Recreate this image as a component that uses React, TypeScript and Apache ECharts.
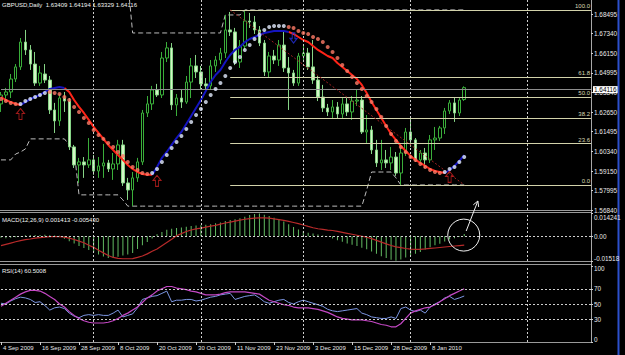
import React, { useEffect, useRef } from 'react';
import * as echarts from 'echarts';

const FONT = '"Liberation Sans", Arial, sans-serif';

// ---------- categories (trading days) ----------
const sepDays = [4, 7, 8, 9, 10, 11, 14, 15, 16, 17, 18, 21, 22, 23, 24, 25, 28, 29, 30];
const octDays = [1, 2, 5, 6, 7, 8, 9, 12, 13, 14, 15, 16, 19, 20, 21, 22, 23, 26, 27, 28, 29, 30];
const novDays = [2, 3, 4, 5, 6, 9, 10, 11, 12, 13, 16, 17, 18, 19, 20, 23, 24, 25, 26, 27, 30];
const decDays = [1, 2, 3, 4, 7, 8, 9, 10, 11, 14, 15, 16, 17, 18, 21, 22, 23, 24, 28, 29, 30, 31];
const janDays = [4, 5, 6, 7, 8, 11, 12, 13, 14, 15, 18, 19];
const futureSlots = 26;

// ---------- candles: [open, close, low, high] ----------
const candles = [
  [1.6315, 1.6368, 1.6267, 1.6386], // 0
  [1.6368, 1.6386, 1.6332, 1.6410],
  [1.6386, 1.6463, 1.6350, 1.6493],
  [1.6463, 1.6535, 1.6445, 1.6552],
  [1.6535, 1.6683, 1.6517, 1.6707],
  [1.6683, 1.6636, 1.6606, 1.6755], // 5
  [1.6636, 1.6552, 1.6517, 1.6665],
  [1.6552, 1.6439, 1.6422, 1.6624],
  [1.6439, 1.6499, 1.6422, 1.6541],
  [1.6493, 1.6457, 1.6439, 1.6552],
  [1.6457, 1.6279, 1.6255, 1.6481], // 10
  [1.6279, 1.6214, 1.6142, 1.6321],
  [1.6214, 1.6350, 1.6184, 1.6374],
  [1.6350, 1.6332, 1.6267, 1.6386],
  [1.6332, 1.6059, 1.6041, 1.6350],
  [1.6059, 1.5952, 1.5934, 1.6071], // 15
  [1.5952, 1.5970, 1.5845, 1.5994],
  [1.5970, 1.5952, 1.5875, 1.5999],
  [1.5952, 1.5982, 1.5934, 1.6112],
  [1.5982, 1.5916, 1.5893, 1.6011],
  [1.5916, 1.5946, 1.5875, 1.5999], // 20
  [1.5946, 1.5964, 1.5875, 1.6077],
  [1.5964, 1.5928, 1.5910, 1.5982],
  [1.5928, 1.5958, 1.5863, 1.6023],
  [1.5958, 1.6071, 1.5922, 1.6101],
  [1.6071, 1.5845, 1.5827, 1.6101], // 25
  [1.5845, 1.5803, 1.5744, 1.5875],
  [1.5803, 1.5875, 1.5707, 1.5910],
  [1.5875, 1.5970, 1.5851, 1.5994],
  [1.5970, 1.6261, 1.5952, 1.6279],
  [1.6261, 1.6315, 1.6237, 1.6362], // 30
  [1.6315, 1.6398, 1.6279, 1.6422],
  [1.6398, 1.6368, 1.6356, 1.6434],
  [1.6368, 1.6588, 1.6350, 1.6624],
  [1.6588, 1.6648, 1.6564, 1.6683],
  [1.6648, 1.6309, 1.6279, 1.6677], // 35
  [1.6309, 1.6350, 1.6243, 1.6374],
  [1.6350, 1.6326, 1.6291, 1.6398],
  [1.6326, 1.6445, 1.6315, 1.6481],
  [1.6445, 1.6541, 1.6350, 1.6588],
  [1.6541, 1.6505, 1.6469, 1.6606], // 40
  [1.6505, 1.6434, 1.6398, 1.6541],
  [1.6434, 1.6422, 1.6386, 1.6469],
  [1.6422, 1.6541, 1.6398, 1.6576],
  [1.6541, 1.6576, 1.6505, 1.6600],
  [1.6576, 1.6618, 1.6552, 1.6648], // 45
  [1.6618, 1.6755, 1.6588, 1.6844],
  [1.6755, 1.6743, 1.6719, 1.6862],
  [1.6743, 1.6564, 1.6546, 1.6767],
  [1.6564, 1.6659, 1.6529, 1.6695],
  [1.6659, 1.6808, 1.6636, 1.6874], // 50
  [1.6808, 1.6802, 1.6767, 1.6856],
  [1.6802, 1.6755, 1.6731, 1.6838],
  [1.6755, 1.6677, 1.6659, 1.6778],
  [1.6677, 1.6505, 1.6481, 1.6695],
  [1.6505, 1.6600, 1.6469, 1.6624], // 55
  [1.6600, 1.6576, 1.6552, 1.6636],
  [1.6576, 1.6665, 1.6541, 1.6695],
  [1.6665, 1.6529, 1.6505, 1.6743],
  [1.6529, 1.6499, 1.6279, 1.6594],
  [1.6499, 1.6439, 1.6422, 1.6517], // 60
  [1.6439, 1.6600, 1.6422, 1.6618],
  [1.6600, 1.6618, 1.6576, 1.6659],
  [1.6618, 1.6535, 1.6517, 1.6648],
  [1.6535, 1.6457, 1.6434, 1.6695],
  [1.6457, 1.6356, 1.6332, 1.6481], // 65
  [1.6356, 1.6291, 1.6267, 1.6428],
  [1.6291, 1.6267, 1.6243, 1.6315],
  [1.6267, 1.6297, 1.6231, 1.6338],
  [1.6297, 1.6255, 1.6231, 1.6326],
  [1.6255, 1.6315, 1.6231, 1.6350], // 70
  [1.6315, 1.6267, 1.6243, 1.6350],
  [1.6267, 1.6332, 1.6220, 1.6362],
  [1.6332, 1.6338, 1.6303, 1.6398],
  [1.6338, 1.6148, 1.6136, 1.6362],
  [1.6148, 1.6160, 1.6083, 1.6249], // 75
  [1.6160, 1.6041, 1.6017, 1.6184],
  [1.6041, 1.5964, 1.5940, 1.6101],
  [1.5964, 1.5982, 1.5922, 1.6101],
  [1.5982, 1.5964, 1.5934, 1.6041],
  [1.5964, 1.5999, 1.5922, 1.6059], // 80
  [1.5999, 1.5904, 1.5887, 1.6029],
  [1.5904, 1.6023, 1.5833, 1.6059],
  [1.6023, 1.6148, 1.6005, 1.6172],
  [1.6148, 1.6101, 1.6059, 1.6237],
  [1.6101, 1.5982, 1.5970, 1.6112], // 85
  [1.5982, 1.6023, 1.5958, 1.6041],
  [1.6023, 1.5982, 1.5934, 1.6053],
  [1.5982, 1.6101, 1.5964, 1.6130],
  [1.6101, 1.6112, 1.6041, 1.6178],
  [1.6112, 1.6172, 1.6095, 1.6184], // 90
  [1.6172, 1.6273, 1.6136, 1.6291],
  [1.6273, 1.6321, 1.6255, 1.6338],
  [1.6321, 1.6261, 1.6208, 1.6350],
  [1.6261, 1.6338, 1.6243, 1.6356],
  [1.63409, 1.64116, 1.63329, 1.64194], // 95
];

// ---------- channel (dashed step lines) ----------
const channelUpperSteps = [
  { from: 0, to: 26, value: 1.7043 },
  { from: 27, to: 45, value: 1.6737 },
  { from: 46, to: 49, value: 1.6844 },
  { from: 50, to: 95, value: 1.6874 },
];
const channelLowerSteps = [
  { from: 0, to: 2, value: 1.5982 },
  { from: 3, to: 3, value: 1.6017 },
  { from: 4, to: 4, value: 1.6029 },
  { from: 5, to: 5, value: 1.6047 },
  { from: 6, to: 13, value: 1.6107 },
  { from: 14, to: 14, value: 1.6071 },
  { from: 15, to: 15, value: 1.6041 },
  { from: 16, to: 24, value: 1.5774 },
  { from: 25, to: 25, value: 1.5744 },
  { from: 26, to: 74, value: 1.5707 },
  { from: 75, to: 75, value: 1.5803 },
  { from: 76, to: 80, value: 1.5910 },
  { from: 81, to: 81, value: 1.5875 },
  { from: 82, to: 95, value: 1.5833 },
];

// ---------- trend curve + dots ----------
const trendLine = [
  1.6356, 1.6338, 1.6326, 1.6315, 1.6309, 1.6326, 1.6344, 1.6356, 1.6368, 1.6386,
  1.6404, 1.6410, 1.6416, 1.6410, 1.6386, 1.6338, 1.6297, 1.6261, 1.6220, 1.6178,
  1.6142, 1.6107, 1.6071, 1.6041, 1.6011, 1.5982, 1.5952, 1.5928, 1.5910, 1.5898,
  1.5893, 1.5893, 1.5940, 1.5994, 1.6029, 1.6071, 1.6112, 1.6148, 1.6196, 1.6243,
  1.6291, 1.6338, 1.6392, 1.6445, 1.6487, 1.6517, 1.6564, 1.6606, 1.6636, 1.6654,
  1.6683, 1.6701, 1.6713, 1.6725, 1.6737, 1.6743, 1.6749, 1.6749, 1.6749, 1.6743,
  1.6731, 1.6713, 1.6695, 1.6683, 1.6659, 1.6636, 1.6618, 1.6600, 1.6588, 1.6558,
  1.6535, 1.6511, 1.6487, 1.6463, 1.6428, 1.6380, 1.6326, 1.6279, 1.6231, 1.6184,
  1.6136, 1.6101, 1.6065, 1.6035, 1.6005, 1.5982, 1.5964, 1.5946, 1.5928, 1.5916,
  1.5910, 1.5904, 1.5922, 1.5946, 1.5976, 1.6011,
];
const trendDots = [
  1.6344, 1.6332, 1.6321, 1.6315, 1.6315, 1.6332, 1.6344, 1.6356, 1.6368, 1.6380,
  1.6386, 1.6380, 1.6374, 1.6356, 1.6338, 1.6297, 1.6267, 1.6231, 1.6202, 1.6160,
  1.6130, 1.6107, 1.6083, 1.6059, 1.6029, 1.6005, 1.5970, 1.5940, 1.5922, 1.5904,
  1.5898, 1.5904, 1.5928, 1.5970, 1.6011, 1.6053, 1.6089, 1.6124, 1.6166, 1.6208,
  1.6249, 1.6285, 1.6326, 1.6368, 1.6404, 1.6439, 1.6481, 1.6529, 1.6564, 1.6594,
  1.6636, 1.6665, 1.6701, 1.6725, 1.6755, 1.6772, 1.6778, 1.6778, 1.6778, 1.6772,
  1.6767, 1.6749, 1.6737, 1.6731, 1.6713, 1.6701, 1.6683, 1.6654, 1.6624, 1.6588,
  1.6546, 1.6511, 1.6475, 1.6439, 1.6404, 1.6362, 1.6326, 1.6285, 1.6237, 1.6184,
  1.6136, 1.6095, 1.6059, 1.6029, 1.5999, 1.5982, 1.5958, 1.5940, 1.5922, 1.5910,
  1.5904, 1.5910, 1.5928, 1.5940, 1.5970, 1.5999,
];
const downLineSegs = [[0, 4], [13, 31], [59, 91]];
const upLineSegs = [[4, 13], [31, 59], [91, 95]];
const downDotSegs = [[0, 3], [10, 30], [59, 90]];
const upDotSegs = [[4, 9], [31, 58], [91, 95]];
const buyArrows = [[4, 1.6255], [32, 1.5857], [92, 1.5881]];
const sellArrows = [[60, 1.6707]];

// ---------- MACD ----------
const macdMain = [
  -0.0010, -0.0012, -0.0010, -0.0006, 0.0002, 0.0006, 0.0008, 0.0007, 0.0008, 0.0009,
  0.0006, 0.0004, 0.0003, -0.0015, -0.0030, -0.0045, -0.0060, -0.0072, -0.0085, -0.0098,
  -0.0112, -0.0124, -0.0133, -0.0130, -0.0126, -0.0118, -0.0112, -0.0102, -0.0078, -0.0056,
  -0.0036, -0.0014, 0.0012, 0.0026, 0.0040, 0.0046, 0.0050, 0.0054, 0.0058, 0.0062,
  0.0066, 0.0068, 0.0070, 0.0074, 0.0079, 0.0084, 0.0094, 0.0100, 0.0104, 0.0110,
  0.0120, 0.0130, 0.0136, 0.0140, 0.0132, 0.0124, 0.0114, 0.0104, 0.0090, 0.0074,
  0.0056, 0.0042, 0.0030, 0.0022, 0.0016, 0.0010, 0.0004, -0.0002, -0.0014, -0.0024,
  -0.0034, -0.0044, -0.0052, -0.0060, -0.0070, -0.0080, -0.0094, -0.0108, -0.0122, -0.0134,
  -0.0144, -0.0150, -0.0142, -0.0130, -0.0120, -0.0108, -0.0096, -0.0082, -0.0068, -0.0056,
  -0.0046, -0.0032, -0.0020, -0.0012, -0.0004, 0.001413,
];
const macdSignal = [
  -0.0058, -0.0050, -0.0042, -0.0034, -0.0027, -0.0021, -0.0017, -0.0012, -0.0008, -0.0005,
  -0.0003, -0.0002, -0.0003, -0.0006, -0.0012, -0.0020, -0.0030, -0.0040, -0.0055, -0.0068,
  -0.0086, -0.0102, -0.0118, -0.0130, -0.0136, -0.0138, -0.0138, -0.0137, -0.0130, -0.0121,
  -0.0108, -0.0092, -0.0078, -0.0058, -0.0038, -0.0018, 0.0003, 0.0016, 0.0029, 0.0038,
  0.0045, 0.0050, 0.0056, 0.0062, 0.0067, 0.0074, 0.0081, 0.0087, 0.0093, 0.0099,
  0.0104, 0.0108, 0.0111, 0.0113, 0.0113, 0.0111, 0.0106, 0.0102, 0.0097, 0.0091,
  0.0084, 0.0077, 0.0069, 0.0060, 0.0052, 0.0046, 0.0042, 0.0038, 0.0035, 0.0030,
  0.0024, 0.0018, 0.0012, 0.0006, 0.0000, -0.0006, -0.0015, -0.0025, -0.0036, -0.0047,
  -0.0057, -0.0065, -0.0070, -0.0075, -0.0079, -0.0080, -0.0080, -0.0078, -0.0075, -0.0072,
  -0.0069, -0.0066, -0.0063, -0.0060, -0.0057, -0.00543,
];

// ---------- RSI ----------
const rsi = [
  51, 50, 54, 57, 59, 58, 56, 52, 53, 48,
  42, 45, 46, 44, 38, 34, 32, 35, 36, 35,
  36, 35, 35, 38, 42, 33, 35, 37, 45, 56,
  58, 60, 61, 64, 67, 53, 55, 55, 56, 56,
  54, 55, 57, 59, 60, 62, 63, 64, 56, 58,
  60, 61, 62, 58, 53, 51, 53, 55, 56, 52,
  50, 53, 55, 53, 51, 49, 47, 43, 41, 40,
  41, 42, 43, 44, 38, 36, 33, 32, 31, 31,
  33, 31, 44, 46, 42, 40, 42, 38, 46, 50,
  53, 58, 60, 56, 58, 60.5008,
];
const rsiMa = [
  47, 51, 55, 59, 63, 66, 68, 68, 67, 64,
  60, 56, 50, 46, 40, 35, 31, 28, 26, 25,
  25, 25, 26, 28, 31, 35, 38, 42, 46, 52,
  58, 62, 67, 70, 73, 73, 71, 70, 69, 67,
  66, 64, 62, 62, 62, 63, 65, 66, 66, 66,
  66, 65, 64, 63, 59, 55, 53, 51, 49, 48,
  46, 45, 45, 45, 44, 43, 41, 39, 36, 33,
  31, 30, 29, 29, 29, 28, 27, 25, 23, 22,
  20, 20, 24, 31, 38, 41, 43, 45, 46, 49,
  53, 57, 61, 64, 67, 70,
];

// ---------- axes / levels ----------
const priceTicks = [1.68495, 1.6734, 1.6615, 1.64995, 1.6384, 1.6265, 1.61495, 1.6034, 1.5915, 1.57995, 1.5684];
const macdTicks = [0.014241, 0, -0.01518];
const macdTickLabels = ['0.014241', '0.00', '-0.01518'];
const rsiTicks = [100, 70, 50, 30, 0];
const rsiLevels = [70, 50, 30];
const monthLineIdx = [19, 41, 62, 84, 108];
const fibHigh = { idx: 47, price: 1.6874 };
const fibLow = { idx: 95, price: 1.5833 };
const fibLevels = [0, 23.6, 38.2, 50, 61.8, 100];
const bidPrice = 1.64116;

// annotation drawn on the MACD pane (data coords of that pane)
const noteCircle = { idx: 94.9, value: 0.0007, r: 16 };
const noteArrow = { from: [95.4, 0.0032], to: [97.8, 0.0216] };

// ---------- derived ----------
const dates = [
  ...sepDays.map((d) => `${d} Sep 2009`),
  ...octDays.map((d) => `${d} Oct 2009`),
  ...novDays.map((d) => `${d} Nov 2009`),
  ...decDays.map((d) => `${d} Dec 2009`),
  ...janDays.map((d) => `${d} Jan 2010`),
];
const categories = [...dates, ...Array.from({ length: futureSlots }, () => '')];
const lastIdx = categories.length - 1;

const expandSteps = (steps) => {
  const out = [];
  steps.forEach((s) => {
    for (let i = s.from; i <= s.to; i++) out[i] = s.value;
  });
  return out;
};
const inSegs = (i, segs) => segs.some(([a, b]) => i >= a && i <= b);
const masked = (arr, segs) => arr.map((v, i) => (inSegs(i, segs) ? v : '-'));

const GRID_L = 1;
const GRID_R = 34;
const PLOT_RIGHT = 625 - GRID_R;
const mainGrid = { top: 0, height: 210 };
const macdGrid = { top: 213, height: 48 };
const rsiGrid = { top: 266, height: 76 };

const dotted = { color: '#cfcfcf', type: [2, 2], width: 1 };
const axisText = { color: '#e8e8e8', fontSize: 6.4, fontFamily: FONT };
const edgeRich = {
  mid: { ...axisText },
  low: { ...axisText, padding: [4, 0, 0, 0] },
  lower: { ...axisText, padding: [8, 0, 0, 0] },
  high: { ...axisText, padding: [0, 0, 6, 0] },
};

const vLines = monthLineIdx.map((i) => ({ xAxis: i }));

function buildOption() {
  const last = candles[candles.length - 1];
  const fibLines = fibLevels.map((l) => {
    const p = fibLow.price + ((fibHigh.price - fibLow.price) * l) / 100;
    const style = { color: '#d2d2aa', type: 'solid', width: 1 };
    const label = {
      show: true,
      position: 'insideEndTop',
      formatter: l.toFixed(1),
      color: '#d8d8b4',
      fontSize: 6,
      fontFamily: FONT,
      distance: 1,
    };
    return [
      { coord: [fibHigh.idx, p], lineStyle: style, label },
      { coord: [lastIdx, p], lineStyle: style, label },
    ];
  });

  const xAxes = [0, 1, 2].map((g) => ({
    type: 'category',
    gridIndex: g,
    data: categories,
    boundaryGap: false,
    axisLine: { show: false },
    axisTick:
      g === 2
        ? {
            show: true,
            interval: (i, v) => i % 8 === 0 && v !== '',
            length: 3,
            lineStyle: { color: '#cfcfcf' },
          }
        : { show: false },
    axisLabel:
      g === 2
        ? {
            show: true,
            interval: 7,
            align: 'left',
            margin: 3,
            padding: [0, 0, 0, 2],
            color: '#e8e8e8',
            fontSize: 6,
            fontFamily: FONT,
          }
        : { show: false },
    splitLine: { show: false },
  }));

  const yBase = {
    type: 'value',
    position: 'right',
    splitLine: { show: false },
    axisLine: { show: false },
  };

  return {
    animation: false,
    backgroundColor: '#000',
    grid: [
      { left: GRID_L, right: GRID_R, ...mainGrid },
      { left: GRID_L, right: GRID_R, ...macdGrid },
      { left: GRID_L, right: GRID_R, ...rsiGrid },
    ],
    xAxis: xAxes,
    yAxis: [
      {
        ...yBase,
        gridIndex: 0,
        min: 1.5684,
        max: 1.6933,
        axisTick: { show: true, customValues: priceTicks, length: 2, lineStyle: { color: '#cfcfcf' } },
        axisLabel: { ...axisText, customValues: priceTicks, margin: 3, formatter: (v) => v.toFixed(5) },
      },
      {
        ...yBase,
        gridIndex: 1,
        min: -0.01518,
        max: 0.014241,
        axisTick: { show: true, customValues: macdTicks, length: 2, lineStyle: { color: '#cfcfcf' } },
        axisLabel: {
          ...axisText,
          customValues: macdTicks,
          margin: 3,
          rich: edgeRich,
          formatter: (v) => {
            const k = macdTicks.findIndex((t) => Math.abs(t - v) < 1e-7);
            if (k < 0) return '';
            const key = k === 0 ? 'lower' : k === macdTicks.length - 1 ? 'high' : 'mid';
            return `{${key}|${macdTickLabels[k]}}`;
          },
        },
      },
      {
        ...yBase,
        gridIndex: 2,
        min: 0,
        max: 100,
        axisTick: { show: true, customValues: rsiTicks, length: 2, lineStyle: { color: '#cfcfcf' } },
        axisLabel: {
          ...axisText,
          customValues: rsiTicks,
          margin: 3,
          rich: edgeRich,
          formatter: (v) => {
            const key = v === 100 ? 'low' : v === 0 ? 'high' : 'mid';
            return `{${key}|${v}}`;
          },
        },
      },
    ],
    series: [
      {
        name: 'Channel upper',
        type: 'line',
        xAxisIndex: 0,
        yAxisIndex: 0,
        data: expandSteps(channelUpperSteps),
        showSymbol: false,
        lineStyle: { color: '#bdbdbd', width: 1, type: [5, 3] },
        silent: true,
        z: 2,
        markLine: {
          silent: true,
          symbol: ['none', 'none'],
          label: { show: false },
          lineStyle: dotted,
          data: [
            ...vLines,
            {
              yAxis: bidPrice,
              lineStyle: { color: '#8e8e8e', type: 'solid', width: 1 },
              label: {
                show: true,
                position: 'end',
                formatter: bidPrice.toFixed(5),
                backgroundColor: '#ffffff',
                color: '#000',
                fontSize: 6.4,
                fontFamily: FONT,
                padding: [1, 1, 0, 1],
                distance: 2,
              },
            },
            ...fibLines,
            [
              { coord: [fibHigh.idx, fibHigh.price], lineStyle: { color: '#a02222', type: [2, 2], width: 1 } },
              { coord: [fibLow.idx, fibLow.price], lineStyle: { color: '#a02222', type: [2, 2], width: 1 } },
            ],
          ],
        },
      },
      {
        name: 'Channel lower',
        type: 'line',
        xAxisIndex: 0,
        yAxisIndex: 0,
        data: expandSteps(channelLowerSteps),
        showSymbol: false,
        lineStyle: { color: '#bdbdbd', width: 1, type: [5, 3] },
        silent: true,
        z: 2,
      },
      {
        name: 'GBPUSD',
        type: 'candlestick',
        xAxisIndex: 0,
        yAxisIndex: 0,
        data: candles,
        barWidth: 3,
        z: 3,
        itemStyle: {
          color: '#000000',
          color0: '#d4f6c6',
          borderColor: '#3aae3a',
          borderColor0: '#86d486',
          borderWidth: 1,
        },
      },
      {
        name: 'Trend down',
        type: 'line',
        xAxisIndex: 0,
        yAxisIndex: 0,
        data: masked(trendLine, downLineSegs),
        showSymbol: false,
        connectNulls: false,
        lineStyle: { color: '#ff2418', width: 2 },
        z: 4,
      },
      {
        name: 'Trend up',
        type: 'line',
        xAxisIndex: 0,
        yAxisIndex: 0,
        data: masked(trendLine, upLineSegs),
        showSymbol: false,
        connectNulls: false,
        lineStyle: { color: '#1414c0', width: 2 },
        z: 4,
      },
      {
        name: 'Dots down',
        type: 'scatter',
        xAxisIndex: 0,
        yAxisIndex: 0,
        data: masked(trendDots, downDotSegs),
        symbolSize: 4,
        itemStyle: { color: '#ff7a66' },
        z: 5,
      },
      {
        name: 'Dots up',
        type: 'scatter',
        xAxisIndex: 0,
        yAxisIndex: 0,
        data: masked(trendDots, upDotSegs),
        symbolSize: 4,
        itemStyle: { color: '#e4ecff' },
        z: 5,
      },
      {
        name: 'Buy',
        type: 'scatter',
        xAxisIndex: 0,
        yAxisIndex: 0,
        data: buyArrows,
        symbol: 'path://M4,0 L8,5 L5.5,5 L5.5,11 L2.5,11 L2.5,5 L0,5 Z',
        symbolSize: [8, 11],
        itemStyle: { color: 'rgba(0,0,0,0)', borderColor: '#cc2020', borderWidth: 1 },
        z: 5,
      },
      {
        name: 'Sell',
        type: 'scatter',
        xAxisIndex: 0,
        yAxisIndex: 0,
        data: sellArrows,
        symbol: 'path://M2.5,0 L5.5,0 L5.5,6 L8,6 L4,11 L0,6 L2.5,6 Z',
        symbolSize: [7, 10],
        itemStyle: { color: 'rgba(0,0,0,0)', borderColor: '#2430d8', borderWidth: 1.2 },
        z: 5,
      },
      {
        name: 'MACD',
        type: 'bar',
        xAxisIndex: 1,
        yAxisIndex: 1,
        data: macdMain,
        barWidth: 1,
        itemStyle: { color: '#62bb62' },
        markLine: {
          silent: true,
          symbol: ['none', 'none'],
          label: { show: false },
          lineStyle: dotted,
          data: [...vLines, { yAxis: 0 }],
        },
      },
      {
        name: 'Signal',
        type: 'line',
        xAxisIndex: 1,
        yAxisIndex: 1,
        data: macdSignal,
        showSymbol: false,
        lineStyle: { color: '#b82a2a', width: 1.2 },
      },
      {
        name: 'RSI',
        type: 'line',
        xAxisIndex: 2,
        yAxisIndex: 2,
        data: rsi,
        showSymbol: false,
        lineStyle: { color: '#7c96e2', width: 1 },
        markLine: {
          silent: true,
          symbol: ['none', 'none'],
          label: { show: false },
          lineStyle: dotted,
          data: [...vLines, ...rsiLevels.map((v) => ({ yAxis: v }))],
        },
      },
      {
        name: 'RSI MA',
        type: 'line',
        xAxisIndex: 2,
        yAxisIndex: 2,
        data: rsiMa,
        showSymbol: false,
        lineStyle: { color: '#c448c4', width: 1.2 },
      },
    ],
    _headers: {
      main: `GBPUSD,Daily  ${last[0].toFixed(5)} ${last[3].toFixed(5)} ${last[2].toFixed(5)} ${last[1].toFixed(5)}`,
      macd: `MACD(12,26,9) ${macdMain[macdMain.length - 1].toFixed(6)} ${macdSignal[macdSignal.length - 1].toFixed(6)}`,
      rsi: `RSI(14) ${rsi[rsi.length - 1].toFixed(4)}`,
    },
  };
}

function staticGraphics(headers) {
  const sepYs = [
    mainGrid.top + mainGrid.height + 0.5,
    macdGrid.top - 0.5,
    macdGrid.top + macdGrid.height + 0.5,
    rsiGrid.top - 1.5,
    rsiGrid.top + rsiGrid.height + 0.5,
  ];
  const txt = (x, y, text) => ({
    type: 'text',
    x,
    y,
    silent: true,
    style: { text, fill: '#f2f2f2', fontSize: 6, fontFamily: FONT, verticalAlign: 'middle' },
  });
  return [
    ...sepYs.map((y) => ({
      type: 'line',
      silent: true,
      shape: { x1: 0, y1: y, x2: PLOT_RIGHT, y2: y },
      style: { stroke: '#9a9a9a', lineWidth: 1 },
    })),
    {
      type: 'line',
      silent: true,
      shape: { x1: PLOT_RIGHT + 0.5, y1: 0, x2: PLOT_RIGHT + 0.5, y2: rsiGrid.top + rsiGrid.height + 0.5 },
      style: { stroke: '#a8a8a8', lineWidth: 1 },
    },
    {
      type: 'line',
      silent: true,
      shape: { x1: 618.5, y1: 0, x2: 618.5, y2: 355 },
      style: { stroke: '#2c50cc', lineWidth: 2 },
    },
    txt(2, 5, headers.main),
    txt(2, macdGrid.top + 6.5, headers.macd),
    txt(2, rsiGrid.top + 4.5, headers.rsi),
  ];
}

export default function App() {
  const ref = useRef(null);
  useEffect(() => {
    document.body.style.margin = '0';
    document.body.style.background = '#000';
    const chart = echarts.init(ref.current, null, { renderer: 'svg' });
    const opt = buildOption();
    const headers = opt._headers;
    delete opt._headers;
    const base = staticGraphics(headers);
    chart.setOption({ ...opt, graphic: base });

    const px = (fi) => {
      const i0 = Math.floor(fi);
      const a = chart.convertToPixel({ xAxisIndex: 1 }, i0);
      const b = chart.convertToPixel({ xAxisIndex: 1 }, i0 + 1);
      return a + (b - a) * (fi - i0);
    };
    const py = (v) => chart.convertToPixel({ yAxisIndex: 1 }, v);
    const cx = px(noteCircle.idx);
    const cy = py(noteCircle.value);
    const x1 = px(noteArrow.from[0]);
    const y1 = py(noteArrow.from[1]);
    const x2 = px(noteArrow.to[0]);
    const y2 = py(noteArrow.to[1]);
    const ang = Math.atan2(y1 - y2, x1 - x2);
    const head = 6;
    const b1 = [x2 + head * Math.cos(ang + 0.5), y2 + head * Math.sin(ang + 0.5)];
    const b2 = [x2 + head * Math.cos(ang - 0.5), y2 + head * Math.sin(ang - 0.5)];
    const notes = [
      {
        type: 'circle',
        silent: true,
        shape: { cx, cy, r: noteCircle.r },
        style: { fill: 'none', stroke: '#f0f0f0', lineWidth: 1 },
        z: 100,
      },
      {
        type: 'line',
        silent: true,
        shape: { x1, y1, x2, y2 },
        style: { stroke: '#f0f0f0', lineWidth: 1 },
        z: 100,
      },
      {
        type: 'polyline',
        silent: true,
        shape: { points: [b1, [x2, y2], b2] },
        style: { fill: 'none', stroke: '#f0f0f0', lineWidth: 1 },
        z: 100,
      },
    ];
    chart.setOption({ graphic: [...base, ...notes] });
    return () => chart.dispose();
  }, []);
  return <div ref={ref} style={{ position: 'absolute', left: 0, top: 0, width: 625, height: 355 }} />;
}
